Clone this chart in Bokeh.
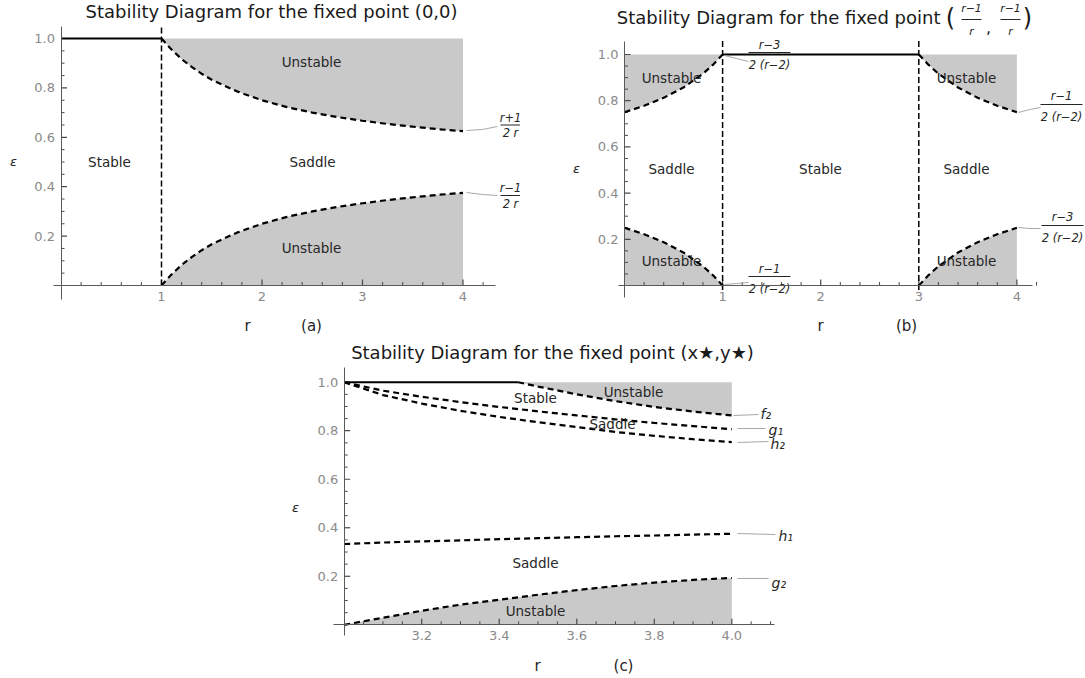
import math
from bokeh.plotting import figure
from bokeh.layouts import column, row
from bokeh.models import FixedTicker, Spacer
from bokeh.core.properties import value
from bokeh.embed import file_html
from bokeh.resources import INLINE

# ---------------- data ----------------
EPS_TOP = 1.0
EPS_BOTTOM = 0.0

# panel (a): fixed point (0,0)
A_R = [1.0, 1.1, 1.2, 1.3, 1.4, 1.5, 1.75, 2.0, 2.25, 2.5, 2.75, 3.0, 3.25, 3.5, 3.75, 4.0]
A_UPPER = [1.0, 0.955, 0.917, 0.885, 0.857, 0.833, 0.786, 0.750, 0.722, 0.700, 0.682, 0.667, 0.654, 0.643, 0.633, 0.625]
A_LOWER = [0.0, 0.045, 0.083, 0.115, 0.143, 0.167, 0.214, 0.250, 0.278, 0.300, 0.318, 0.333, 0.346, 0.357, 0.367, 0.375]
A_STABLE_R = [0.0, 1.0]
A_STABLE_EPS = [1.0, 1.0]
A_VLINE_R = [1.0]
A_VLINE_EPS = [0.0, 1.05]

# panel (b): fixed point ((r-1)/r, (r-1)/r)
B_LEFT_R = [0.0, 0.2, 0.4, 0.6, 0.8, 0.9, 1.0]
B_LEFT_UPPER = [0.75, 0.778, 0.8125, 0.857, 0.917, 0.955, 1.0]
B_LEFT_LOWER = [0.25, 0.222, 0.1875, 0.143, 0.083, 0.045, 0.0]
B_RIGHT_R = [3.0, 3.1, 3.2, 3.4, 3.6, 3.8, 4.0]
B_RIGHT_UPPER = [1.0, 0.955, 0.917, 0.857, 0.8125, 0.778, 0.75]
B_RIGHT_LOWER = [0.0, 0.045, 0.083, 0.143, 0.1875, 0.222, 0.25]
B_STABLE_R = [1.0, 3.0]
B_STABLE_EPS = [1.0, 1.0]
B_VLINE_R = [1.0, 3.0]
B_VLINE_EPS = [-0.02, 1.058]

# panel (c): fixed point (x*, y*)
C_R = [3.0, 3.1, 3.2, 3.3, 3.4, 3.5, 3.6, 3.7, 3.8, 3.9, 4.0]
C_G1 = [1.0, 0.965, 0.940, 0.918, 0.898, 0.880, 0.863, 0.847, 0.832, 0.819, 0.806]
C_H2 = [1.0, 0.947, 0.912, 0.882, 0.857, 0.835, 0.815, 0.795, 0.779, 0.765, 0.753]
C_H1 = [0.333, 0.339, 0.344, 0.348, 0.353, 0.357, 0.361, 0.365, 0.368, 0.372, 0.375]
C_G2 = [0.0, 0.029, 0.058, 0.083, 0.103, 0.124, 0.143, 0.160, 0.174, 0.185, 0.193]
C_F2_R = [3.449, 3.5, 3.6, 3.7, 3.8, 3.9, 4.0]
C_F2 = [1.0, 0.982, 0.950, 0.922, 0.898, 0.879, 0.863]
C_STABLE_R = [3.0, 3.449]
C_STABLE_EPS = [1.0, 1.0]

# ticks
AB_XTICKS = [1.0, 2.0, 3.0, 4.0]
AB_XTICK_LABELS = ["1", "2", "3", "4"]
AB_XMINOR = [0.2, 0.4, 0.6, 0.8, 1.2, 1.4, 1.6, 1.8, 2.2, 2.4, 2.6, 2.8,
             3.2, 3.4, 3.6, 3.8, 4.2]
C_XTICKS = [3.2, 3.4, 3.6, 3.8, 4.0]
C_XTICK_LABELS = ["3.2", "3.4", "3.6", "3.8", "4.0"]
C_XMINOR = [3.05, 3.1, 3.15, 3.25, 3.3, 3.35, 3.45, 3.5, 3.55, 3.65, 3.7, 3.75,
            3.85, 3.9, 3.95, 4.05, 4.1]
EPS_TICKS = [0.2, 0.4, 0.6, 0.8, 1.0]
EPS_TICK_LABELS = ["0.2", "0.4", "0.6", "0.8", "1.0"]
EPS_MINOR = [0.05, 0.1, 0.15, 0.25, 0.3, 0.35, 0.45, 0.5, 0.55, 0.65, 0.7, 0.75,
             0.85, 0.9, 0.95]

# ---------------- styles ----------------
FONT = "DejaVu Sans"
INK = "#262626"
FILL = "#c9c9c9"
AXIS = "#5a5a5a"
TICK = "#4a4a4a"
LEADER = "#a8a8a8"
DASH = "6 4"
MAJOR_TICK_PX = 6
MINOR_TICK_PX = 3.5


class Geom:
    """pixel layout of a panel: px = x0 + sx*(r-r0), py = y0 - sy*eps"""
    def __init__(self, w, h, x0, sx, y0, sy, r0):
        self.w, self.h, self.x0, self.sx, self.y0, self.sy, self.r0 = w, h, x0, sx, y0, sy, r0

    def r(self, px):
        return self.r0 + (px - self.x0) / self.sx

    def e(self, py):
        return (self.y0 - py) / self.sy


def make_panel(g):
    p = figure(width=g.w, height=g.h,
               x_range=(g.r(0), g.r(g.w)), y_range=(g.e(g.h), g.e(0)),
               output_backend="svg", toolbar_location=None, title=None, min_border=0)
    p.outline_line_color = None
    p.grid.visible = False
    p.background_fill_color = "white"
    p.border_fill_color = "white"
    return p


def style_axes(p, g, x_at, y_at, xb, yb, xt, xlab, xminor, yt, ylab, yminor):
    xa = p.xaxis[0]
    ya = p.yaxis[0]
    xa.fixed_location = y_at
    ya.fixed_location = x_at
    xa.bounds = xb
    ya.bounds = yb
    xa.ticker = FixedTicker(ticks=xt, minor_ticks=xminor)
    ya.ticker = FixedTicker(ticks=yt, minor_ticks=yminor)
    xa.major_label_overrides = {float(t): l for t, l in zip(xt, xlab)}
    ya.major_label_overrides = {float(t): l for t, l in zip(yt, ylab)}
    for ax in (xa, ya):
        ax.axis_line_color = AXIS
        ax.axis_line_width = 1
        ax.major_tick_line_color = TICK
        ax.minor_tick_line_color = TICK
        ax.major_tick_in = 0
        ax.major_tick_out = 0
        ax.minor_tick_in = 0
        ax.minor_tick_out = 0
        ax.major_label_text_color = "#8a8a8a"
        ax.major_label_text_font = FONT
        ax.major_label_text_font_size = "13px"
        ax.major_label_standoff = 6
    # tick marks pointing into the plot: "dash" markers centred half a tick inside
    for ticks, L, wdt in ((xt, MAJOR_TICK_PX, 1.2), (xminor, MINOR_TICK_PX, 1.0)):
        p.scatter(x=list(ticks), y=[y_at + 0.5 * L / g.sy] * len(ticks), marker="dash",
                  size=L, angle=math.pi / 2, line_color=TICK, line_width=wdt)
    for ticks, L, wdt in ((yt, MAJOR_TICK_PX, 1.2), (yminor, MINOR_TICK_PX, 1.0)):
        p.scatter(x=[x_at + 0.5 * L / g.sx] * len(ticks), y=list(ticks), marker="dash",
                  size=L, line_color=TICK, line_width=wdt)


def texts(p, g, items, size, style="normal", align="center", color=INK):
    p.text(x=[g.r(x) for x, y, t in items], y=[g.e(y) for x, y, t in items],
           text=[t for x, y, t in items],
           text_font=value(FONT), text_font_size=value(size), text_font_style=style,
           text_align=align, text_baseline="middle", text_color=color)


def fraction(p, g, cx, y_num, y_bar, y_den, num, den, half, size="11.5px"):
    texts(p, g, [(cx, y_num, num), (cx, y_den, den)], size, style="italic")
    p.segment(x0=[g.r(cx - half)], y0=[g.e(y_bar)], x1=[g.r(cx + half)], y1=[g.e(y_bar)],
              line_color=INK, line_width=1)


def leader(p, g, pts):
    p.line([g.r(x) for x, y in pts], [g.e(y) for x, y in pts], line_color=LEADER, line_width=1)


def dashed(p, x, y, width=2.2, dash=DASH):
    p.line(x, y, line_color="black", line_width=width, line_dash=dash)


# ---------------- panel (a) ----------------
GA = Geom(520, 335, 60.5, 100.5, 285.0, 247.0, 0.0)
pa = make_panel(GA)
pa.varea(x=A_R, y1=A_UPPER, y2=EPS_TOP, fill_color=FILL)
pa.varea(x=A_R, y1=EPS_BOTTOM, y2=A_LOWER, fill_color=FILL)
style_axes(pa, GA, 0.0, 0.0, (-0.078, 4.32), (-0.058, 1.05),
           AB_XTICKS, AB_XTICK_LABELS, AB_XMINOR, EPS_TICKS, EPS_TICK_LABELS, EPS_MINOR)
dashed(pa, A_VLINE_R * 2, A_VLINE_EPS, width=1.5, dash="6 3")
dashed(pa, A_R, A_UPPER)
dashed(pa, A_R, A_LOWER)
pa.line(A_STABLE_R, A_STABLE_EPS, line_color="black", line_width=2)
texts(pa, GA, [(271, 11, "Stability Diagram for the fixed point (0,0)")], "18px", color="#1a1a1a")
texts(pa, GA, [(109, 161, "Stable"), (312, 161, "Saddle"),
               (311, 61, "Unstable"), (311, 247, "Unstable")], "13.5px")
texts(pa, GA, [(13, 161, "ε")], "13px", style="italic")
texts(pa, GA, [(247, 325, "r"), (311, 325, "(a)")], "15px")
leader(pa, GA, [(466, 130), (482, 129), (497, 126)])
leader(pa, GA, [(466, 192), (482, 194), (497, 195)])
fraction(pa, GA, 510, 117, 124.5, 132, "r+1", "2 r", 10)
fraction(pa, GA, 510, 187, 195, 203, "r−1", "2 r", 10)

# ---------------- panel (b) ----------------
GB = Geom(565, 335, 104.0, 98.1, 285.0, 231.0, 0.0)
pb = make_panel(GB)
pb.varea(x=B_LEFT_R, y1=B_LEFT_UPPER, y2=EPS_TOP, fill_color=FILL)
pb.varea(x=B_LEFT_R, y1=EPS_BOTTOM, y2=B_LEFT_LOWER, fill_color=FILL)
pb.varea(x=B_RIGHT_R, y1=B_RIGHT_UPPER, y2=EPS_TOP, fill_color=FILL)
pb.varea(x=B_RIGHT_R, y1=EPS_BOTTOM, y2=B_RIGHT_LOWER, fill_color=FILL)
style_axes(pb, GB, 0.0, 0.0, (-0.063, 4.16), (-0.05, 1.058),
           AB_XTICKS, AB_XTICK_LABELS, AB_XMINOR, EPS_TICKS, EPS_TICK_LABELS, EPS_MINOR)
for vr in B_VLINE_R:
    dashed(pb, [vr, vr], B_VLINE_EPS, width=1.5, dash="6 3")
dashed(pb, B_LEFT_R, B_LEFT_UPPER)
dashed(pb, B_LEFT_R, B_LEFT_LOWER)
dashed(pb, B_RIGHT_R, B_RIGHT_UPPER)
dashed(pb, B_RIGHT_R, B_RIGHT_LOWER)
pb.line(B_STABLE_R, B_STABLE_EPS, line_color="black", line_width=2)
texts(pb, GB, [(420, 17, "Stability Diagram for the fixed point")], "18px", align="right", color="#1a1a1a")
texts(pb, GB, [(430, 17, "("), (507, 17, ")")], "24px", color="#1a1a1a")
texts(pb, GB, [(468, 26, ",")], "16px", color="#1a1a1a")
fraction(pb, GB, 451, 8, 19, 31, "r−1", "r", 10, size="11px")
fraction(pb, GB, 490, 8, 19, 31, "r−1", "r", 10, size="11px")
texts(pb, GB, [(151, 77, "Unstable"), (151, 168, "Saddle"), (300, 168, "Stable"),
               (446, 168, "Saddle"), (446, 77, "Unstable"),
               (151, 260, "Unstable"), (446, 260, "Unstable")], "13.5px")
texts(pb, GB, [(56, 168, "ε")], "13px", style="italic")
texts(pb, GB, [(300, 325, "r"), (386, 325, "(b)")], "15px")
leader(pb, GB, [(204, 55), (216, 58), (228, 61)])
leader(pb, GB, [(204, 284), (216, 283), (228, 282)])
leader(pb, GB, [(498, 112), (509, 109), (520, 107)])
leader(pb, GB, [(498, 227), (509, 228), (520, 228)])
fraction(pb, GB, 249, 44, 52, 64, "r−3", "2 (r−2)", 21)
fraction(pb, GB, 249, 268, 276, 288, "r−1", "2 (r−2)", 21)
fraction(pb, GB, 541, 95, 104, 116, "r−1", "2 (r−2)", 21)
fraction(pb, GB, 542, 216, 225, 237, "r−3", "2 (r−2)", 21)

# ---------------- panel (c) ----------------
GC = Geom(560, 343, 93.7, 387.6, 289.3, 242.6, 3.0)
pc = make_panel(GC)
pc.varea(x=C_F2_R, y1=C_F2, y2=EPS_TOP, fill_color=FILL)
pc.varea(x=C_R, y1=EPS_BOTTOM, y2=C_G2, fill_color=FILL)
style_axes(pc, GC, 3.0, 0.0, (2.973, 4.11), (-0.044, 1.062),
           C_XTICKS, C_XTICK_LABELS, C_XMINOR, EPS_TICKS, EPS_TICK_LABELS, EPS_MINOR)
dashed(pc, C_R, C_G1)
dashed(pc, C_R, C_H2)
dashed(pc, C_R, C_H1)
dashed(pc, C_R, C_G2)
dashed(pc, C_F2_R, C_F2)
pc.line(C_STABLE_R, C_STABLE_EPS, line_color="black", line_width=2)
texts(pc, GC, [(302, 17, "Stability Diagram for the fixed point (x★,y★)")], "18px", color="#1a1a1a")
texts(pc, GC, [(285, 62, "Stable"), (383, 56, "Unstable"), (362, 88, "Saddle"),
               (285, 227, "Saddle"), (285, 275, "Unstable")], "13.5px")
texts(pc, GC, [(45, 172, "ε")], "13px", style="italic")
texts(pc, GC, [(287, 330, "r"), (373, 330, "(c)")], "15px")
leader(pc, GC, [(483, 80), (508, 79)])
leader(pc, GC, [(487, 93), (515, 93)])
leader(pc, GC, [(487, 107), (518, 106)])
leader(pc, GC, [(487, 198), (525, 199)])
leader(pc, GC, [(487, 243), (518, 243)])
texts(pc, GC, [(510, 78, "f₂"), (518, 94, "g₁"), (520, 108, "h₂"),
               (528, 200, "h₁"), (521, 247, "g₂")], "14px", style="italic", align="left")

layout = column(row(pa, pb), row(Spacer(width=250, height=343), pc))
open("out.html", "w").write(file_html(layout, INLINE))
